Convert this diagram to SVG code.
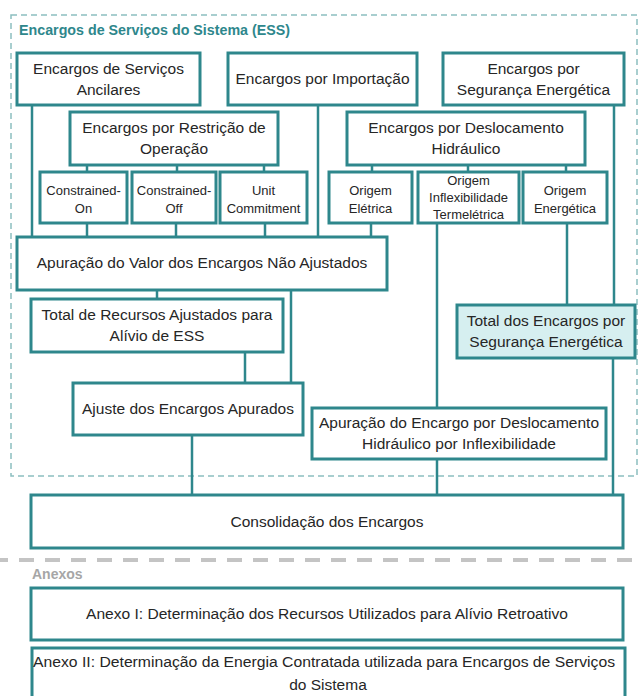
<svg xmlns="http://www.w3.org/2000/svg" width="639" height="696" viewBox="0 0 639 696">
<style>
.b{fill:#fff;stroke:#2e878c;stroke-width:3}
.hl{fill:#d6eff0}
.c line{stroke:#2e878c;stroke-width:2.5}
text{font-family:"Liberation Sans",Arial,sans-serif;fill:#262626;text-anchor:middle}
.m{font-size:15.5px}
.s{font-size:13px}
.t{font-size:15.5px;font-weight:bold;fill:#2e878c;text-anchor:start}
.a{font-size:14px;font-weight:bold;fill:#a6a6a6;text-anchor:start}
</style>
<rect width="639" height="696" fill="#fff"/>
<rect x="11" y="15" width="626" height="461" fill="none" stroke="#8cbfc0" stroke-width="1.5" stroke-dasharray="6 4"/>
<text class="t" x="19" y="35" textLength="271" lengthAdjust="spacingAndGlyphs">Encargos de Serviços do Sistema (ESS)</text>
<line x1="0" y1="560" x2="639" y2="560" stroke="#c4c4c4" stroke-width="4" stroke-dasharray="15 11" stroke-dashoffset="7"/>
<text class="a" x="32" y="579">Anexos</text>
<g class="c" id="connectors">
<line x1="32" y1="105" x2="32" y2="237"/>
<line x1="318" y1="105" x2="318" y2="237"/>
<line x1="87" y1="165" x2="87" y2="172"/>
<line x1="177" y1="165" x2="177" y2="172"/>
<line x1="264" y1="165" x2="264" y2="172"/>
<line x1="87" y1="223" x2="87" y2="237"/>
<line x1="176" y1="223" x2="176" y2="237"/>
<line x1="265" y1="223" x2="265" y2="237"/>
<line x1="372" y1="165" x2="372" y2="172"/>
<line x1="468" y1="165" x2="468" y2="172"/>
<line x1="566" y1="165" x2="566" y2="172"/>
<line x1="371" y1="223" x2="371" y2="237"/>
<line x1="437" y1="223" x2="437" y2="408"/>
<line x1="567" y1="223" x2="567" y2="305"/>
<line x1="614" y1="105" x2="614" y2="305"/>
<line x1="613" y1="358" x2="613" y2="495"/>
<line x1="157" y1="290" x2="157" y2="299"/>
<line x1="291" y1="290" x2="291" y2="383"/>
<line x1="245" y1="352" x2="245" y2="383"/>
<line x1="192" y1="435" x2="192" y2="495"/>
<line x1="437" y1="459" x2="437" y2="495"/>
</g>
<g id="n-ancilares"><rect class="b" x="17" y="53" width="183" height="52"/><text class="m" x="108.5" y="74">Encargos de Serviços</text><text class="m" x="108.5" y="95">Ancilares</text></g>
<g id="n-importacao"><rect class="b" x="228" y="53" width="189" height="52"/><text class="m" x="322.5" y="84">Encargos por Importação</text></g>
<g id="n-seguranca"><rect class="b" x="443" y="53" width="181" height="52"/><text class="m" x="533.5" y="74">Encargos por</text><text class="m" x="533.5" y="95">Segurança Energética</text></g>
<g id="n-restricao"><rect class="b" x="70" y="112" width="208" height="53"/><text class="m" x="174" y="133">Encargos por Restrição de</text><text class="m" x="174" y="154">Operação</text></g>
<g id="n-deslocamento"><rect class="b" x="347" y="112" width="238" height="53"/><text class="m" x="466" y="133">Encargos por Deslocamento</text><text class="m" x="466" y="154">Hidráulico</text></g>
<g id="n-con"><rect class="b" x="40" y="172" width="87" height="51"/><text class="s" x="83.5" y="195">Constrained-</text><text class="s" x="83.5" y="213">On</text></g>
<g id="n-coff"><rect class="b" x="132" y="172" width="84" height="51"/><text class="s" x="174" y="195">Constrained-</text><text class="s" x="174" y="213">Off</text></g>
<g id="n-unit"><rect class="b" x="220" y="172" width="87" height="51"/><text class="s" x="263.5" y="195">Unit</text><text class="s" x="263.5" y="213">Commitment</text></g>
<g id="n-eletrica"><rect class="b" x="329" y="172" width="83" height="51"/><text class="s" x="370.5" y="195">Origem</text><text class="s" x="370.5" y="213">Elétrica</text></g>
<g id="n-inflex"><rect class="b" x="418" y="172" width="101" height="51"/><text class="s" x="468.5" y="185">Origem</text><text class="s" x="468.5" y="202">Inflexibilidade</text><text class="s" x="468.5" y="219">Termelétrica</text></g>
<g id="n-energetica"><rect class="b" x="523" y="172" width="84" height="51"/><text class="s" x="565" y="195">Origem</text><text class="s" x="565" y="213">Energética</text></g>
<g id="n-apuracao"><rect class="b" x="17" y="237" width="370" height="53"/><text class="m" x="202" y="268">Apuração do Valor dos Encargos Não Ajustados</text></g>
<g id="n-total-recursos"><rect class="b" x="31" y="299" width="252" height="53"/><text class="m" x="157" y="320">Total de Recursos Ajustados para</text><text class="m" x="157" y="341">Alívio de ESS</text></g>
<g id="n-ajuste"><rect class="b" x="73" y="383" width="230" height="52"/><text class="m" x="188" y="414">Ajuste dos Encargos Apurados</text></g>
<g id="n-total-seg"><rect class="b hl" x="457" y="305" width="178" height="53"/><text class="m" x="546" y="326">Total dos Encargos por</text><text class="m" x="546" y="347">Segurança Energética</text></g>
<g id="n-apuracao-desl"><rect class="b" x="312" y="408" width="294" height="51"/><text class="m" x="459" y="428">Apuração do Encargo por Deslocamento</text><text class="m" x="459" y="449">Hidráulico por Inflexibilidade</text></g>
<g id="n-consolidacao"><rect class="b" x="31" y="495" width="592" height="53"/><text class="m" x="327" y="527">Consolidação dos Encargos</text></g>
<g id="n-anexo1"><rect class="b" x="31" y="588" width="592" height="52"/><text class="m" x="327" y="619" textLength="482" lengthAdjust="spacingAndGlyphs">Anexo I: Determinação dos Recursos Utilizados para Alívio Retroativo</text></g>
<g id="n-anexo2"><rect class="b" x="32" y="648" width="593" height="62"/><text class="m" x="324" y="667" textLength="582" lengthAdjust="spacingAndGlyphs">Anexo II: Determinação da Energia Contratada utilizada para Encargos de Serviços</text><text class="m" x="328" y="690">do Sistema</text></g>
</svg>
